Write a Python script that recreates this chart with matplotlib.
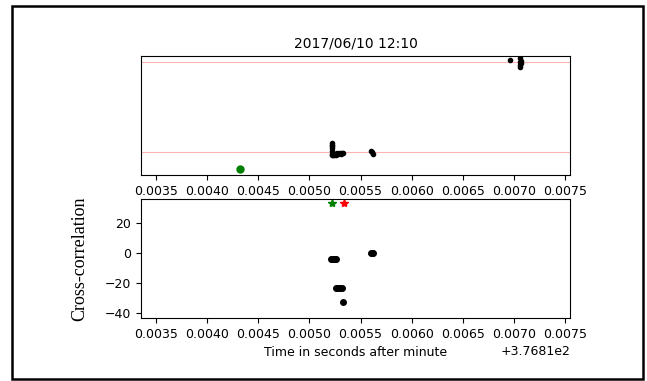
import matplotlib
matplotlib.use("Agg")
import matplotlib.pyplot as plt
from matplotlib.patches import Rectangle

offset = 376.81

# top panel: detections (arbitrary units, red lines at 0 and 1)
top_x = [0.00522, 0.00522, 0.00522, 0.00522, 0.00522, 0.00522, 0.00522, 0.00523, 0.00524,
         0.00525, 0.00526, 0.00527, 0.00528, 0.00530, 0.00531, 0.00532, 0.00533,
         0.00560, 0.00561, 0.00562,
         0.00696, 0.00706, 0.00706, 0.00706, 0.00707, 0.00706, 0.00707]
top_y = [0.10, 0.08, 0.06, 0.04, 0.01, -0.02, -0.04, -0.03, -0.04,
         -0.02, -0.03, -0.01, -0.02, -0.01, -0.02, -0.01, -0.01,
         0.01, 0.00, -0.02,
         1.02, 1.04, 1.00, 0.97, 1.01, 0.94, 0.99]
ref_lines = [0.0, 1.0]
green_x = [0.00432]
green_y = [-0.19]

# bottom panel: cross-correlation
cc_x = [0.00521, 0.00522, 0.00523, 0.00524, 0.00525, 0.00526,
        0.00560, 0.00561, 0.00562,
        0.00526, 0.00527, 0.00528, 0.00530, 0.00532,
        0.00533]
cc_y = [-4, -4, -4, -4, -4, -4,
        0, 0, 0,
        -23.5, -23.5, -23.5, -23.5, -23.5,
        -32.5]
star_x = [0.00522, 0.00534]
star_y = [33.2, 33.2]
star_c = ['green', 'red']

fig = plt.figure(figsize=(6.47, 3.81), dpi=100)
fig.patches.append(Rectangle((0.0185, 0.005), 0.975, 0.979, transform=fig.transFigure,
                             fill=False, edgecolor='black', linewidth=1.8))

ax1 = fig.add_axes([0.218, 0.541, 0.663, 0.312])
for v in ref_lines:
    ax1.axhline(v, color='red', alpha=0.3, linewidth=0.8)
ax1.plot([offset + x for x in top_x], top_y, 'o', color='black', markersize=3)
ax1.plot([offset + x for x in green_x], green_y, 'o', color='green', markersize=5)
ax1.set_ylim(-0.256, 1.067)
ax1.set_yticks([])
ax1.set_title('2017/06/10 12:10', fontsize=10)

ax2 = fig.add_axes([0.218, 0.165, 0.663, 0.312])
ax2.plot([offset + x for x in cc_x], cc_y, 'o', color='black', markersize=4)
for x, y, c in zip(star_x, star_y, star_c):
    ax2.plot(offset + x, y, '*', color=c, markersize=6)
ax2.set_ylim(-43.3, 36)
ax2.set_xlabel('Time in seconds after minute', fontsize=9)
ax2.set_ylabel('Cross-correlation', family='Liberation Serif', fontsize=13, labelpad=12)

for ax in (ax1, ax2):
    ax.set_xlim(offset + 0.003353, offset + 0.007549)
    ax.set_xticks([offset + 0.0035 + 0.0005 * i for i in range(9)])
    ax.tick_params(labelsize=9)
ax1.xaxis.get_offset_text().set_visible(False)
ax2.xaxis.get_offset_text().set_fontsize(9)

fig.savefig('out.png', dpi=100)
